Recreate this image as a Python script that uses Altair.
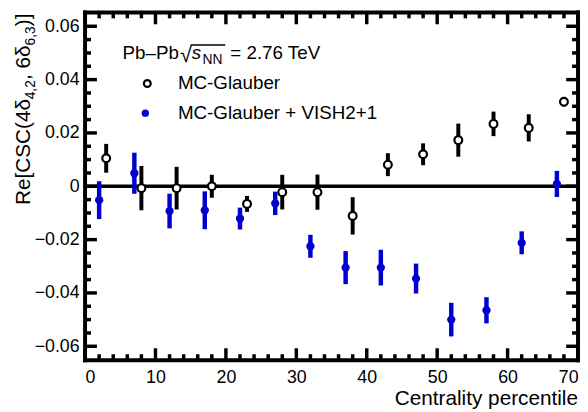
import altair as alt
import pandas as pd

# ---- data ----
glauber_x = [3, 8, 13, 18, 23, 28, 33, 38, 43, 48, 53, 58, 63, 68]
glauber_y = [0.0105, -0.0007, -0.0007, 0.0, -0.0066, -0.0022, -0.0022, -0.0111,
             0.0081, 0.0120, 0.0173, 0.0234, 0.0219, 0.0317]
glauber_err = [0.0054, 0.0083, 0.0080, 0.0043, 0.0030, 0.0065, 0.0066, 0.0070,
               0.0043, 0.0041, 0.0062, 0.0046, 0.0051, 0.0018]

vish_x = [2, 7, 12, 17, 22, 27, 32, 37, 42, 47, 52, 57, 62, 67]
vish_y = [-0.0052, 0.0049, -0.0093, -0.0090, -0.0121, -0.0064, -0.0225, -0.0305,
          -0.0305, -0.0346, -0.0500, -0.0465, -0.0212, 0.0009]
vish_err = [0.0071, 0.0077, 0.0065, 0.0071, 0.0041, 0.0044, 0.0043, 0.0062,
            0.0067, 0.0056, 0.0063, 0.0049, 0.0043, 0.0049]

x_major = [0, 10, 20, 30, 40, 50, 60, 70]
x_minor = [v for v in range(2, 70, 2) if v % 10 != 0]
y_major = [-0.06, -0.04, -0.02, 0.0, 0.02, 0.04, 0.06]
y_minor = [round(k * 0.005, 3) for k in range(-12, 13) if k % 4 != 0]

BLUE = "#0000d0"
FONT = "Liberation Sans"
W, H = 499, 352

g = pd.DataFrame({"x": glauber_x, "y": glauber_y,
                  "lo": [a - b for a, b in zip(glauber_y, glauber_err)],
                  "hi": [a + b for a, b in zip(glauber_y, glauber_err)]})
v = pd.DataFrame({"x": vish_x, "y": vish_y,
                  "lo": [a - b for a, b in zip(vish_y, vish_err)],
                  "hi": [a + b for a, b in zip(vish_y, vish_err)]})

xscale = alt.Scale(domain=[0, 70], nice=False, zero=False)
yscale = alt.Scale(domain=[-0.0652, 0.0652], nice=False, zero=False)
xaxis = alt.Axis(values=x_major, format="d", ticks=False, domain=False, grid=False,
                 labelPadding=9, title=None, labelFont=FONT, labelFontSize=18,
                 labelColor="black")
yaxis = alt.Axis(values=y_major, ticks=False, domain=False, grid=False, labelPadding=6,
                 title=None, labelFont=FONT, labelFontSize=18, labelColor="black",
                 labelExpr="datum.value == 0 ? '0' : format(datum.value, '.2f')")


def X(f):
    return alt.X(f, type="quantitative", scale=xscale, axis=xaxis)


def Y(f):
    return alt.Y(f, type="quantitative", scale=yscale, axis=yaxis)


one = pd.DataFrame({"z": [0.0]})

zero_line = alt.Chart(one).mark_rule(color="black", strokeWidth=3.5).encode(y=Y("z"))

v_bars = alt.Chart(v).mark_rule(color=BLUE, strokeWidth=4.5).encode(
    x=X("x"), y=Y("lo"), y2="hi")
v_pts = alt.Chart(v).mark_point(shape="circle", filled=True, color=BLUE, size=70,
                                opacity=1).encode(x=X("x"), y=Y("y"))
g_bars = alt.Chart(g).mark_rule(color="black", strokeWidth=4).encode(
    x=X("x"), y=Y("lo"), y2="hi")
g_pts = alt.Chart(g).mark_point(shape="circle", fill="white", stroke="black",
                                strokeWidth=2.2, size=62, opacity=1,
                                fillOpacity=1).encode(x=X("x"), y=Y("y"))

# frame
FW = 4
frame = [
    alt.Chart(one).mark_rule(color="black", strokeWidth=FW).encode(
        x=alt.value(-2), x2=alt.value(W + 2), y=alt.value(0)),
    alt.Chart(one).mark_rule(color="black", strokeWidth=FW).encode(
        x=alt.value(-2), x2=alt.value(W + 2), y=alt.value(H)),
    alt.Chart(one).mark_rule(color="black", strokeWidth=FW).encode(
        x=alt.value(0), y=alt.value(-2), y2=alt.value(H + 2)),
    alt.Chart(one).mark_rule(color="black", strokeWidth=FW).encode(
        x=alt.value(W), y=alt.value(-2), y2=alt.value(H + 2)),
]

# inner ticks on all four sides
xmaj = pd.DataFrame({"t": x_major})
xmin = pd.DataFrame({"t": x_minor})
ymaj = pd.DataFrame({"t": y_major})
ymin = pd.DataFrame({"t": y_minor})
TW = 3.5
tick_layers = []
for df, L in ((xmaj, 12), (xmin, 6)):
    tick_layers.append(alt.Chart(df).mark_rule(color="black", strokeWidth=TW).encode(
        x=X("t"), y=alt.value(H), y2=alt.value(H - L)))
    tick_layers.append(alt.Chart(df).mark_rule(color="black", strokeWidth=TW).encode(
        x=X("t"), y=alt.value(0), y2=alt.value(L)))
for df, L in ((ymaj, 12), (ymin, 6)):
    tick_layers.append(alt.Chart(df).mark_rule(color="black", strokeWidth=TW).encode(
        y=Y("t"), x=alt.value(0), x2=alt.value(L)))
    tick_layers.append(alt.Chart(df).mark_rule(color="black", strokeWidth=TW).encode(
        y=Y("t"), x=alt.value(W), x2=alt.value(W - L)))


def txt(s, x, y, size, **kw):
    return alt.Chart(one).mark_text(text=s, font=FONT, fontSize=size, color="black",
                                    align=kw.pop("align", "left"),
                                    baseline=kw.pop("baseline", "alphabetic"),
                                    **kw).encode(x=alt.value(x), y=alt.value(y))


# y title built from pieces (rotated), with subscripts
ytitle = [
    txt("Re[CSC(4\u03b4", -56, 195, 21, angle=270),
    txt("4,2", -51, 88, 14, angle=270),
    txt(", 6\u03b4", -56, 68.5, 21, angle=270),
    txt("6,3", -51, 33.5, 14, angle=270),
    txt(")]", -56, 14, 21, angle=270),
]

xtitle = txt("Centrality percentile", W, 397, 21, align="right")

# legend / header
header = [
    txt("Pb\u2013Pb", 38, 47, 19),
    txt("\u221a", 96, 50, 22),
    txt("s", 108, 47, 19, fontStyle="italic"),
    txt("NN", 119, 52, 14),
    txt("= 2.76 TeV", 147, 47, 19),
    alt.Chart(one).mark_rule(color="black", strokeWidth=1.5).encode(
        x=alt.value(107), x2=alt.value(142), y=alt.value(33)),
    alt.Chart(one).mark_point(shape="circle", fill="white", stroke="black",
                              strokeWidth=2.2, size=48, opacity=1, fillOpacity=1).encode(
        x=alt.value(63), y=alt.value(72)),
    txt("MC-Glauber", 94, 78, 19),
    alt.Chart(one).mark_point(shape="circle", filled=True, color=BLUE, size=55,
                              opacity=1).encode(x=alt.value(61), y=alt.value(102)),
    txt("MC-Glauber + VISH2+1", 94, 108, 19),
]

chart = alt.layer(
    zero_line, v_bars, v_pts, g_bars, g_pts, *tick_layers, *frame, *ytitle, xtitle,
    *header
).properties(
    width=W, height=H,
    background="white",
    autosize=alt.AutoSizeParams(type="none"),
    padding={"left": 78, "top": 2, "right": 2, "bottom": 48},
).configure_view(
    stroke=None
)

chart.save("out.html", embed_options={"renderer": "svg", "actions": False})
